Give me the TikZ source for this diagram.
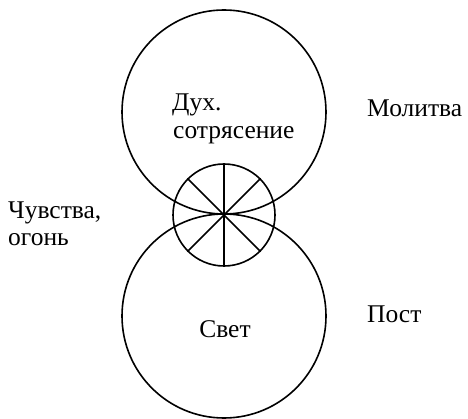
\documentclass[tikz,border=0pt]{standalone}
\usepackage{fontspec}
\setmainfont{Liberation Serif}
\begin{document}
\begin{tikzpicture}[x=1pt,y=-1pt,
  ring/.style={draw,line width=1.6pt,circle,inner sep=0pt},
  lbl/.style={font=\fontsize{25.5}{28}\selectfont,inner sep=0pt,anchor=base west}]
\useasboundingbox (0,0) rectangle (468,419);
\node[ring,minimum size=204pt] (up) at (224,112) {};
\node[ring,minimum size=204pt] (low) at (224,316) {};
\node[ring,minimum size=102pt] (mid) at (224,215) {};
\coordinate (c) at (224,215);
\foreach \a in {45,90,135,225,270,315}{
  \draw[line width=1.6pt] (c) -- (mid.\a);
}
\node[lbl] (t1a) at (172,111) {Дух.};
\node[lbl] (t1b) at (173,139) {сотрясение};
\node[lbl] (t2) at (367,116.5) {Молитва};
\node[lbl] (t3a) at (8,218.5) {Чувства,};
\node[lbl] (t3b) at (8,246) {огонь};
\node[lbl,anchor=base] (t4) at (225,337.5) {Свет};
\node[lbl] (t5) at (367,323) {Пост};
\end{tikzpicture}
\end{document}
